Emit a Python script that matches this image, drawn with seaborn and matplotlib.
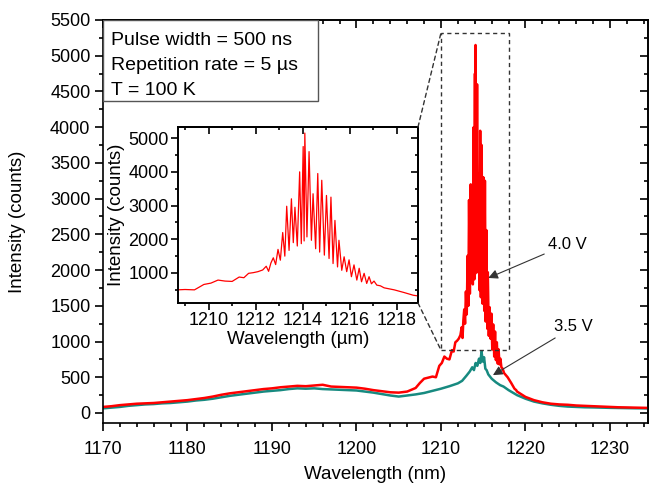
import matplotlib
matplotlib.use("Agg")
import matplotlib.pyplot as plt
from matplotlib.ticker import MultipleLocator
from matplotlib.patches import Rectangle, ConnectionPatch
import seaborn as sns
import pandas as pd

plt.rcParams['font.family'] = ['Liberation Sans', 'DejaVu Sans']

# ---------------- data ----------------
wl_40 = [1170, 1171, 1172, 1173, 1174, 1175, 1176, 1177, 1178, 1179, 1180, 1181, 1182, 1183,
         1184, 1185, 1186, 1187, 1188, 1189, 1190, 1191, 1192, 1193, 1194, 1195, 1196, 1197,
         1198, 1199, 1200, 1201, 1202, 1203, 1204, 1205, 1206, 1207, 1207.5, 1208,
         1208.7, 1209.0, 1209.4, 1209.8, 1210.1, 1210.4, 1210.7, 1211.0, 1211.3, 1211.5,
         1211.7, 1211.9, 1212.1, 1212.3, 1212.45, 1212.55, 1212.65,
         1212.75, 1212.85, 1212.95, 1213.05, 1213.15, 1213.24, 1213.32, 1213.42, 1213.52,
         1213.60, 1213.67, 1213.77, 1213.87, 1213.94, 1214.02, 1214.06, 1214.09, 1214.18,
         1214.27, 1214.37, 1214.44, 1214.55, 1214.64, 1214.72, 1214.81, 1214.92, 1215.01,
         1215.12, 1215.20, 1215.29, 1215.37, 1215.48, 1215.54, 1215.66, 1215.76, 1215.87,
         1215.97, 1216.07, 1216.18, 1216.30, 1216.40, 1216.50, 1216.61, 1216.72, 1216.82,
         1216.92, 1217.03, 1217.15, 1217.3, 1217.46, 1217.6, 1217.75, 1217.89, 1218.1,
         1218.31, 1218.5, 1218.7, 1218.9,
         1219, 1220, 1221, 1222, 1223, 1224, 1225, 1226, 1227, 1228, 1229, 1230, 1231,
         1232, 1233, 1234, 1235]
int_40 = [85, 95, 110, 120, 130, 135, 140, 150, 160, 170, 180, 195, 210, 230,
          255, 275, 290, 305, 320, 335, 345, 360, 370, 380, 375, 385, 395, 370,
          365, 360, 355, 340, 320, 305, 290, 285, 300, 350, 420, 480,
          500, 510, 500, 660, 700, 790, 760, 750, 880, 860,
          990, 1010, 1040, 1090, 1200, 1050, 1300,
          1450, 1250, 1700, 1380, 2200, 1500, 2980, 1670, 3200,
          1900, 2950, 1800, 4000, 1870, 4750, 1950, 5150, 2070,
          4600, 1970, 3350, 1720, 3950, 1620, 3750, 1530, 3300,
          1430, 3250, 1280, 2560, 1180, 1970, 1080, 1480, 1040,
          1390, 890, 1240, 790, 1140, 740, 990, 690, 890,
          680, 760, 640, 620, 560, 540, 520, 500, 460,
          420, 380, 340, 320,
          300, 225, 180, 150, 130, 120, 115, 105, 100, 95, 90, 85, 80,
          78, 75, 72, 70]

wl_35 = [1170, 1171, 1172, 1173, 1174, 1175, 1176, 1177, 1178, 1179, 1180, 1181, 1182, 1183,
         1184, 1185, 1186, 1187, 1188, 1189, 1190, 1191, 1192, 1193, 1194, 1195, 1196, 1197,
         1198, 1199, 1200, 1201, 1202, 1203, 1204, 1205, 1206, 1207, 1208, 1209, 1210,
         1211, 1212, 1212.5, 1213, 1213.4, 1213.7, 1213.9, 1214.1, 1214.3, 1214.5, 1214.65,
         1214.8, 1214.95, 1215.1, 1215.25, 1215.4, 1215.6, 1215.8, 1216.0, 1216.2, 1216.5,
         1217, 1217.4, 1218, 1219, 1220, 1220.5, 1221, 1222, 1223, 1224, 1225, 1226, 1227,
         1228, 1229, 1230, 1231, 1232, 1233, 1234, 1235]
int_35 = [65, 75, 85, 100, 110, 120, 125, 135, 140, 150, 160, 175, 185, 200,
          220, 240, 255, 270, 285, 300, 310, 320, 335, 345, 340, 345, 335, 330,
          325, 320, 315, 300, 285, 265, 245, 230, 245, 260, 280, 310, 340,
          375, 415, 450, 520, 580, 640, 600, 700, 660, 760, 700,
          860, 720, 780, 620, 600, 540, 510, 480, 460, 430,
          390, 370, 320, 250, 200, 180, 160, 135, 115, 100, 90, 85, 80,
          78, 75, 72, 70, 68, 66, 65, 63]

labels = ["4.0 V", "3.5 V"]
info_lines = ["Pulse width = 500 ns", "Repetition rate = 5 \u00b5s", "T = 100 K"]

df40 = pd.DataFrame({"wl": wl_40, "I": int_40})
df35 = pd.DataFrame({"wl": wl_35, "I": int_35})

RED = "#ff0000"
TEAL = "#178a80"
FS = 13

fig = plt.figure(figsize=(6.52, 4.83), dpi=100)
ax = fig.add_axes([103/652, 60/483, 545/652, 403/483])

sns.lineplot(data=df35, x="wl", y="I", ax=ax, color=TEAL, lw=1.8, estimator=None)
sns.lineplot(data=df40, x="wl", y="I", ax=ax, color=RED, lw=1.8, estimator=None)

ax.set_xlim(1170, 1234.5)
ax.set_ylim(-140, 5500)
ax.xaxis.set_major_locator(MultipleLocator(10))
ax.xaxis.set_minor_locator(MultipleLocator(2))
ax.yaxis.set_major_locator(MultipleLocator(500))
ax.yaxis.set_minor_locator(MultipleLocator(250))
ax.tick_params(which='major', direction='out', length=6, width=1.2, labelsize=FS, pad=3)
ax.tick_params(which='minor', direction='out', length=3, width=1.2)
ax.tick_params(axis='x', which='major', pad=7)
for s in ax.spines.values():
    s.set_linewidth(1.2)
ax.set_xlabel("Wavelength (nm)", fontsize=13.5)
ax.set_ylabel("Intensity (counts)", fontsize=13.5)
ax.xaxis.set_label_coords(0.5, -0.106)
ax.yaxis.set_label_coords(-0.141, 0.5)

secx = ax.secondary_xaxis('top')
secx.xaxis.set_major_locator(MultipleLocator(10))
secx.xaxis.set_minor_locator(MultipleLocator(2))
secx.tick_params(which='major', direction='in', length=6, width=1.2, labeltop=False)
secx.tick_params(which='minor', direction='in', length=3, width=1.2)
secy = ax.secondary_yaxis('right')
secy.yaxis.set_major_locator(MultipleLocator(500))
secy.yaxis.set_minor_locator(MultipleLocator(250))
secy.tick_params(which='major', direction='in', length=6, width=1.2, labelright=False)
secy.tick_params(which='minor', direction='in', length=3, width=1.2)
for sa in (secx, secy):
    for s in sa.spines.values():
        s.set_linewidth(1.2)

# info box
ax.add_patch(Rectangle((0, 0.799), 0.394, 0.201, transform=ax.transAxes,
                       facecolor='white', edgecolor='#555555', lw=1.0, zorder=5))
for txt, yy in zip(info_lines, [0.950, 0.888, 0.826]):
    ax.text(0.0147, yy, txt, transform=ax.transAxes, fontsize=14, va='center',
            ha='left', zorder=6)

# dashed zoom rectangle
ax.add_patch(Rectangle((1210, 880), 8, 4440, fill=False, ls=(0, (3, 2.5)),
                       edgecolor='#333333', lw=1.0, zorder=4))

# annotations
ax.annotate(labels[0], xy=(1215.6, 1890), xytext=(1222.7, 2365), fontsize=12,
            ha='left', va='center',
            arrowprops=dict(arrowstyle='-|>', color='#333333', lw=0.8,
                            shrinkA=1, shrinkB=0, mutation_scale=14))
ax.annotate(labels[1], xy=(1216.15, 530), xytext=(1223.4, 1204), fontsize=12,
            ha='left', va='center',
            arrowprops=dict(arrowstyle='-|>', color='#333333', lw=0.8,
                            shrinkA=1, shrinkB=0, mutation_scale=14))

# inset
axi = fig.add_axes([178/652, 180/483, 240/652, 176/483])
sns.lineplot(data=df40, x="wl", y="I", ax=axi, color=RED, lw=0.9, estimator=None)
axi.set_xlim(1208.7, 1218.9)
axi.set_ylim(110, 5330)
axi.xaxis.set_major_locator(MultipleLocator(2))
axi.xaxis.set_minor_locator(MultipleLocator(1))
axi.set_yticks([1000, 2000, 3000, 4000, 5000])
axi.yaxis.set_minor_locator(MultipleLocator(500))
axi.tick_params(which='major', direction='out', length=5, width=1.2, labelsize=FS, pad=1.5)
axi.tick_params(which='minor', direction='out', length=2.5, width=1.2)
for s in axi.spines.values():
    s.set_linewidth(1.4)
axi.set_xlabel("Wavelength (\u00b5m)", fontsize=13.5)
axi.set_ylabel("Intensity (counts)", fontsize=13.5)
axi.xaxis.set_label_coords(0.5, -0.16)
axi.yaxis.set_label_coords(-0.222, 0.5)
isx = axi.secondary_xaxis('top')
isx.xaxis.set_major_locator(MultipleLocator(2))
isx.xaxis.set_minor_locator(MultipleLocator(1))
isx.tick_params(which='major', direction='in', length=5, width=1.2, labeltop=False)
isx.tick_params(which='minor', direction='in', length=2.5, width=1.2)
isy = axi.secondary_yaxis('right')
isy.set_yticks([1000, 2000, 3000, 4000, 5000])
isy.yaxis.set_minor_locator(MultipleLocator(500))
isy.tick_params(which='major', direction='in', length=5, width=1.2, labelright=False)
isy.tick_params(which='minor', direction='in', length=2.5, width=1.2)
for sa in (isx, isy):
    for s in sa.spines.values():
        s.set_linewidth(1.4)

# connector lines from inset to zoom rectangle
for (fx, fy), (dx, dy) in [((1, 1), (1210, 5320)), ((1, 0), (1210, 880))]:
    cp = ConnectionPatch(xyA=(fx, fy), coordsA=axi.transAxes, xyB=(dx, dy),
                         coordsB=ax.transData, ls=(0, (3, 2.5)), color='#333333', lw=1.0)
    fig.add_artist(cp)

fig.savefig("out.png", dpi=100)
